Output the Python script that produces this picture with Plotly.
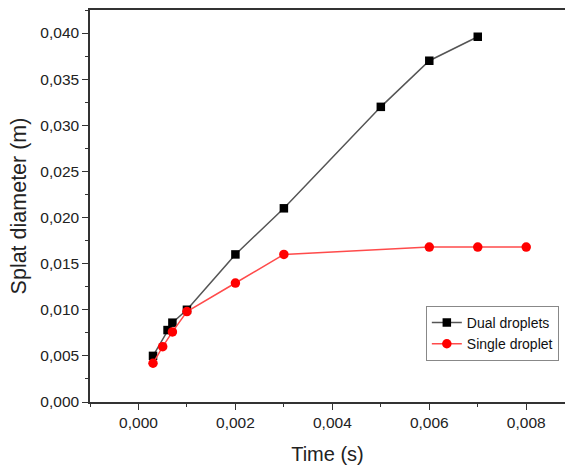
import plotly.graph_objects as go

dual_x = [0.0003, 0.0006, 0.0007, 0.001, 0.002, 0.003, 0.005, 0.006, 0.007]
dual_y = [0.005, 0.0078, 0.0086, 0.010, 0.016, 0.021, 0.032, 0.037, 0.0396]
single_x = [0.0003, 0.0005, 0.0007, 0.001, 0.002, 0.003, 0.006, 0.007, 0.008]
single_y = [0.0042, 0.006, 0.0076, 0.0098, 0.0129, 0.016, 0.0168, 0.0168, 0.0168]

fig = go.Figure()
fig.add_trace(go.Scatter(x=dual_x, y=dual_y, mode="lines+markers", name="Dual droplets",
                         line=dict(color="#555555", width=1.5),
                         marker=dict(symbol="square", size=8.5, color="black")))
fig.add_trace(go.Scatter(x=single_x, y=single_y, mode="lines+markers", name="Single droplet",
                         line=dict(color="#ff4b4b", width=1.5),
                         marker=dict(symbol="circle", size=9.5, color="#ff0000")))

axis_common = dict(showgrid=False, zeroline=False, showline=True, linecolor="#333333", linewidth=1.5,
                   ticks="outside", ticklen=6, tickwidth=1, tickcolor="#333333",
                   tickfont=dict(family="Liberation Sans, Arial", size=15.5, color="#222222"),
                   tickformat=".3f", automargin=False)

fig.update_layout(
    width=565, height=465, autosize=False,
    margin=dict(l=90, r=0, t=10, b=63),
    plot_bgcolor="white", paper_bgcolor="white",
    separators=", ",
    font=dict(family="Liberation Sans, Arial", color="#222222"),
    xaxis=dict(range=[-0.001, 0.0088], dtick=0.002, tick0=0,
               minor=dict(ticks="outside", ticklen=3, dtick=0.001, tickcolor="#333333"),
               mirror=True,
               title=dict(text="Time (s)", font=dict(size=20), standoff=18),
               **axis_common),
    yaxis=dict(range=[0, 0.0425], dtick=0.005, tick0=0,
               minor=dict(ticks="outside", ticklen=3, dtick=0.0025, tickcolor="#333333"),
               title=dict(text="Splat diameter (m)", font=dict(size=21.5), standoff=8),
               **axis_common),
    legend=dict(x=0.707, y=0.245, xanchor="left", yanchor="top",
                bordercolor="#888888", borderwidth=1, bgcolor="white",
                font=dict(size=14, color="#111111"), tracegroupgap=0,
                itemwidth=30),
    showlegend=True,
)

fig.write_html("out.html", config={"displayModeBar": False},
               post_script="document.body.style.margin='0';document.documentElement.style.overflow='hidden';")
